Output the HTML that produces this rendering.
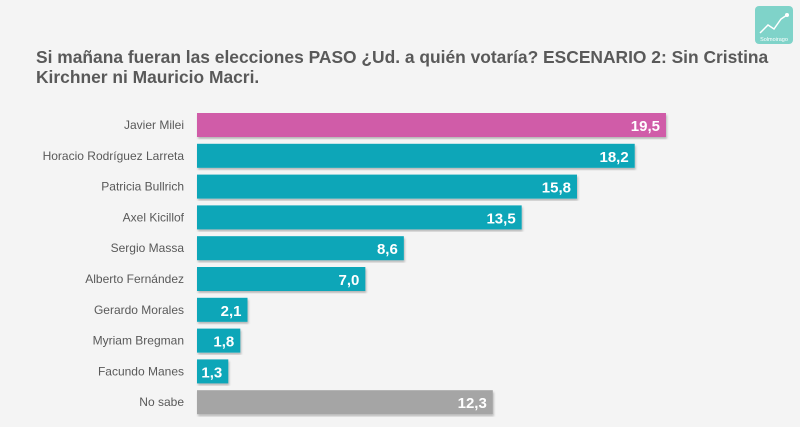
<!DOCTYPE html>
<html><head><meta charset="utf-8"><style>
body{margin:0;width:800px;height:427px;background:#f4f4f4;font-family:"Liberation Sans",sans-serif;overflow:hidden;position:relative}
#title{position:absolute;left:36px;top:47px;width:750px;font-size:17.4px;font-weight:bold;color:#595959;line-height:20px;margin:0}
#logo{position:absolute;left:755px;top:6px;width:38px;height:38px;background:#7fd3c9;border-radius:4px}
</style></head><body>
<h1 id="title">Si mañana fueran las elecciones PASO ¿Ud. a quién votaría? ESCENARIO 2: Sin Cristina Kirchner ni Mauricio Macri.</h1>
<div id="logo">
<svg width="38" height="38"><polyline points="5,27 13,19 19,23 26,13 32,9" fill="none" stroke="#fff" stroke-width="1.5"/><circle cx="32" cy="9" r="2" fill="#fff"/><text x="19" y="35" font-size="5.5" fill="#fff" text-anchor="middle" font-family="Liberation Sans">Solmoirago</text></svg>
</div>
<svg id="chart" width="800" height="427" style="position:absolute;left:0;top:0">
<defs><filter id="sh"><feDropShadow dx="1" dy="2" stdDeviation="1" flood-opacity="0.25"/></filter></defs>
<g id="bars"></g></svg>
<script>
const categories=["Javier Milei","Horacio Rodríguez Larreta","Patricia Bullrich","Axel Kicillof","Sergio Massa","Alberto Fernández","Gerardo Morales","Myriam Bregman","Facundo Manes","No sabe"];
const values=[19.5,18.2,15.8,13.5,8.6,7.0,2.1,1.8,1.3,12.3];
const colors=["#d05ca8","#0aa6b8","#0aa6b8","#0aa6b8","#0aa6b8","#0aa6b8","#0aa6b8","#0aa6b8","#0aa6b8","#a5a5a5"];
const x0=197,scale=24.05,y0=125,step=30.8,bh=24;
const xs=v=>x0+v*scale, ys=i=>y0+i*step;
const g=document.getElementById('bars'),NS="http://www.w3.org/2000/svg";
categories.forEach((c,i)=>{
 const r=document.createElementNS(NS,'rect');
 r.setAttribute('x',x0);r.setAttribute('y',ys(i)-bh/2);r.setAttribute('width',xs(values[i])-x0);r.setAttribute('height',bh);r.setAttribute('fill',colors[i]);r.setAttribute('filter','url(#sh)');
 
 
 g.appendChild(r);
 const l=document.createElementNS(NS,'text');
 l.setAttribute('x',184);l.setAttribute('y',ys(i)+4);l.setAttribute('text-anchor','end');l.setAttribute('font-size','12');l.setAttribute('fill','#595959');l.textContent=c;
 
 
 g.appendChild(l);
 const v=document.createElementNS(NS,'text');
 v.setAttribute('x',xs(values[i])-6);v.setAttribute('y',ys(i)+6);v.setAttribute('text-anchor','end');v.setAttribute('font-size','15');v.setAttribute('font-weight','bold');v.setAttribute('fill','#fff');v.textContent=values[i].toFixed(1).replace('.',',');
 
 
 g.appendChild(v);
});
</script>
</body></html>
